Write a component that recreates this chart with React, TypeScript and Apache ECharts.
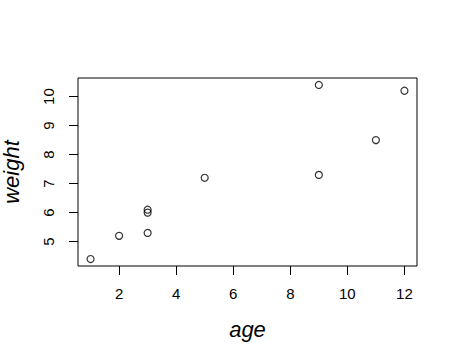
import React, { useEffect, useRef } from "react";
import * as echarts from "echarts";

const age = [1, 3, 5, 2, 11, 9, 3, 9, 12, 3];
const weight = [4.4, 5.3, 7.2, 5.2, 8.5, 7.3, 6.0, 10.4, 10.2, 6.1];
const xTicks = [2, 4, 6, 8, 10, 12];
const yTicks = [5, 6, 7, 8, 9, 10];
const xTitle = "age";
const yTitle = "weight";

export default function App() {
  const ref = useRef<HTMLDivElement>(null);
  useEffect(() => {
    if (!ref.current) return;
    const chart = echarts.init(ref.current, null, { renderer: "svg" });
    const xMin = Math.min(...age), xMax = Math.max(...age);
    const yMin = Math.min(...weight), yMax = Math.max(...weight);
    const xr = (xMax - xMin) * 0.04;
    const yr = (yMax - yMin) * 0.04;
    const font = "'Liberation Sans', Arial, sans-serif";
    chart.setOption({
      animation: false,
      backgroundColor: "#fff",
      textStyle: { fontFamily: font },
      grid: {
        left: 78,
        top: 78,
        right: 41,
        bottom: 98,
        outerBoundsMode: "none",
        containLabel: false,
        show: true,
        borderColor: "#000",
        borderWidth: 1,
        backgroundColor: "transparent",
      },
      xAxis: {
        type: "value",
        min: xMin - xr,
        max: xMax + xr,
        name: xTitle,
        nameLocation: "middle",
        nameGap: 52,
        nameTextStyle: { fontSize: 22, fontStyle: "italic", color: "#000", fontFamily: font },
        axisLine: { show: false },
        splitLine: { show: false },
        axisTick: {
          show: true,
          length: 9,
          inside: false,
          customValues: xTicks,
          lineStyle: { color: "#000", width: 1 },
        },
        axisLabel: {
          customValues: xTicks,
          fontSize: 15,
          color: "#000",
          margin: 20,
          fontFamily: font,
        },
      },
      yAxis: {
        type: "value",
        min: yMin - yr,
        max: yMax + yr,
        name: yTitle,
        nameLocation: "middle",
        nameGap: 56,
        nameTextStyle: { fontSize: 22, fontStyle: "italic", color: "#000", fontFamily: font },
        axisLine: { show: false },
        splitLine: { show: false },
        axisTick: {
          show: true,
          length: 9,
          inside: false,
          customValues: yTicks,
          lineStyle: { color: "#000", width: 1 },
        },
        axisLabel: {
          customValues: yTicks,
          rotate: 90,
          fontSize: 15,
          color: "#000",
          margin: 22,
          fontFamily: font,
        },
      },
      series: [
        {
          type: "scatter",
          data: age.map((a, i) => [a, weight[i]]),
          symbol: "circle",
          symbolSize: 7,
          itemStyle: { color: "rgba(0,0,0,0)", borderColor: "#000", borderWidth: 1.2 },
        },
      ],
    });
    return () => chart.dispose();
  }, []);
  return (
    <div
      ref={ref}
      style={{ position: "absolute", left: 0, top: 0, width: 458, height: 364 }}
    />
  );
}
